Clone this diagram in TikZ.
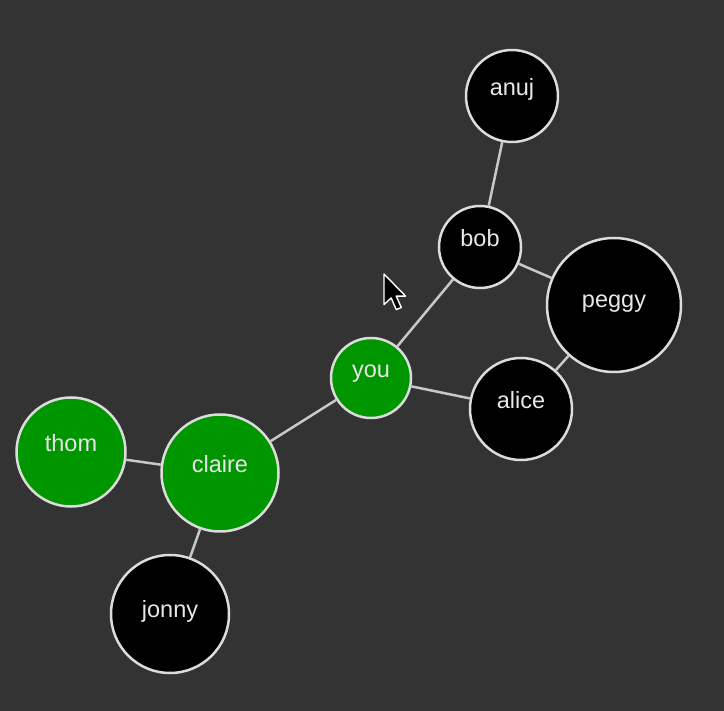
\documentclass[tikz,border=0pt]{standalone}
\usepackage{fontspec}
\setmainfont{Liberation Sans}
\definecolor{bg}{HTML}{333333}
\definecolor{gfill}{HTML}{009600}
\definecolor{rim}{HTML}{DCDCDC}
\definecolor{edgec}{HTML}{C8C8C8}
\definecolor{txtc}{HTML}{E8E8E8}
\begin{document}
\begin{tikzpicture}[x=1pt,y=-1pt,
  person/.style={circle,draw=rim,line width=2.5pt,inner sep=0pt,fill=black},
  visited/.style={person,fill=gfill},
  lbl/.style={anchor=base,text=txtc,font=\fontsize{23.5}{28}\selectfont,inner sep=0pt},
  link/.style={draw=edgec,line width=2.5pt}]
\fill[bg] (0,0) rectangle (724,711);
\useasboundingbox (0,0) rectangle (724,711);
% nodes
\node[person,minimum size=92pt]  (anuj)   at (512,96)  {};
\node[person,minimum size=82pt]  (bob)    at (480,247) {};
\node[person,minimum size=134pt] (peggy)  at (614,305) {};
\node[person,minimum size=102pt] (alice)  at (521,409) {};
\node[visited,minimum size=80pt] (you)    at (371,378) {};
\node[visited,minimum size=117pt] (claire) at (220,473) {};
\node[visited,minimum size=109pt] (thom)  at (71,452)  {};
\node[person,minimum size=118pt] (jonny)  at (170,614) {};
% labels
\node[lbl] (anujL)   at (anuj.center)   {anuj};
\node[lbl] (bobL)    at (bob.center)    {bob};
\node[lbl] (peggyL)  at ([yshift=-3pt]peggy.center)  {peggy};
\node[lbl] (aliceL)  at (alice.center)  {alice};
\node[lbl] (youL)    at (you.center)    {you};
\node[lbl] (claireL) at (claire.center) {claire};
\node[lbl] (thomL)   at (thom.center)   {thom};
\node[lbl] (jonnyL)  at ([yshift=-4pt]jonny.center)  {jonny};
% edges
\draw[link] (you) -- (bob);
\draw[link] (you) -- (alice);
\draw[link] (you) -- (claire);
\draw[link] (claire) -- (thom);
\draw[link] (claire) -- (jonny);
\draw[link] (bob) -- (anuj);
\draw[link] (bob) -- (peggy);
\draw[link] (peggy) -- (alice);
% mouse pointer
\coordinate (tip) at (384,274);
\begin{scope}[shift={(tip)},scale=1.8]
\draw[fill=black,draw=white,line width=1.4pt,line join=round]
  (0,0) -- (0,17) -- (4,13.3) -- (6.8,19.8) -- (9.6,18.6) -- (6.8,12.3) -- (12,12.3) -- cycle;
\end{scope}
\end{tikzpicture}
\end{document}
